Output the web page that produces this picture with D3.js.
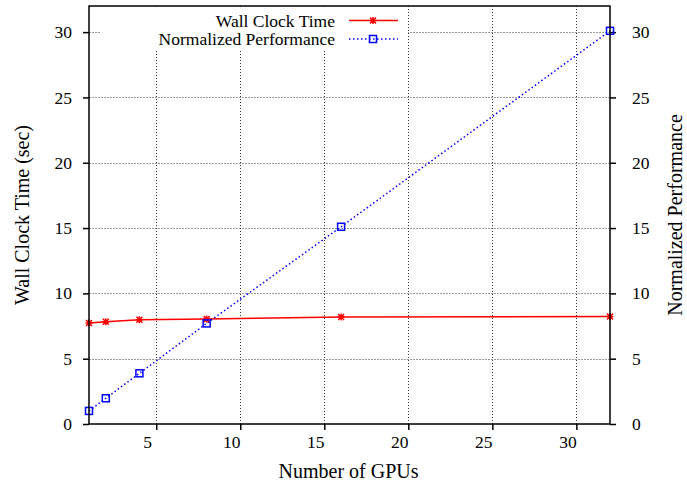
<!DOCTYPE html>
<html>
<head>
<meta charset="utf-8">
<script src="https://cdn.jsdelivr.net/npm/d3@7"></script>
<style>
  body { margin: 0; background: #fff; }
  text { font-family: "Liberation Serif", "Times New Roman", serif; fill: #000; }
</style>
</head>
<body>
<script>
// data
var gpus = [1, 2, 4, 8, 16, 32];
var wallClock = [7.73, 7.83, 7.98, 8.03, 8.19, 8.23];
var normPerf = [1.0, 1.97, 3.88, 7.70, 15.1, 30.1];
var xTicks = [5, 10, 15, 20, 25, 30];
var yTicks = [0, 5, 10, 15, 20, 25, 30];

var svgWidth = 687, svgHeight = 486;
var margin = { top: 6, right: 77, bottom: 62, left: 89 };
var width = svgWidth - margin.left - margin.right;
var height = svgHeight - margin.top - margin.bottom;

var xscale = d3.scaleLinear().domain([1, 32]).range([0, width]);
var yscale = d3.scaleLinear().domain([0, 32]).range([height, 0]);
var y2scale = d3.scaleLinear().domain([0, 32]).range([height, 0]);

var svg = d3.select("body").append("svg")
    .attr("width", svgWidth)
    .attr("height", svgHeight);

var g = svg.append("g")
    .attr("transform", "translate(" + margin.left + "," + margin.top + ")");

// grid
g.append("g").selectAll("line").data(yTicks.filter(function(d) { return d > 0; }))
    .enter().append("line")
    .attr("x1", 0).attr("x2", width)
    .attr("y1", function(d) { return Math.round(yscale(d)) + 0.5; })
    .attr("y2", function(d) { return Math.round(yscale(d)) + 0.5; })
    .attr("stroke", "#999")
    .attr("stroke-dasharray", "2,1");

g.append("g").selectAll("line").data(xTicks)
    .enter().append("line")
    .attr("x1", function(d) { return Math.round(xscale(d)) + 0.5; })
    .attr("x2", function(d) { return Math.round(xscale(d)) + 0.5; })
    .attr("y1", 0).attr("y2", height)
    .attr("stroke", "#333")
    .attr("stroke-dasharray", "1,2");

// legend box hides grid behind it
var legend = svg.append("g");
legend.append("rect")
    .attr("x", 100).attr("y", 9)
    .attr("width", 308).attr("height", 41)
    .attr("fill", "#fff");

// axes
var xAxis = g.append("g")
    .attr("transform", "translate(0," + height + ")")
    .call(d3.axisBottom(xscale).tickValues(xTicks).tickSize(6).tickPadding(6));
xAxis.selectAll("text").attr("dx", -9).style("font-size", "17.5px");

var yAxis = g.append("g")
    .call(d3.axisLeft(yscale).tickValues(yTicks).tickSize(6).tickPadding(11));
yAxis.selectAll("text").style("font-size", "17.5px");

var y2Axis = g.append("g")
    .attr("transform", "translate(" + width + ",0)")
    .call(d3.axisRight(y2scale).tickValues(yTicks).tickSize(6).tickPadding(16));
y2Axis.selectAll("text").style("font-size", "17.5px");

[xAxis, yAxis, y2Axis].forEach(function(a) {
    a.select(".domain").remove();
    a.selectAll("line").attr("stroke", "#000").attr("stroke-width", 1.5);
    a.selectAll("text").attr("font-family", null);
});

// data lines
var line1 = d3.line()
    .x(function(d, i) { return xscale(gpus[i]); })
    .y(function(d) { return yscale(d); });
var line2 = d3.line()
    .x(function(d, i) { return xscale(gpus[i]); })
    .y(function(d) { return y2scale(d); });

g.append("path").datum(wallClock)
    .attr("fill", "none")
    .attr("stroke", "#ff0000")
    .attr("stroke-width", 1.5)
    .attr("d", line1);

g.append("path").datum(normPerf)
    .attr("fill", "none")
    .attr("stroke", "#0000ff")
    .attr("stroke-width", 1.5)
    .attr("stroke-dasharray", "1.5,2.5")
    .attr("d", line2);

var star = "M-3.5,0H3.5M0,-3.5V3.5M-3,-3L3,3M-3,3L3,-3";

g.append("g").selectAll("path").data(wallClock)
    .enter().append("path")
    .attr("transform", function(d, i) { return "translate(" + xscale(gpus[i]) + "," + yscale(d) + ")"; })
    .attr("d", star)
    .attr("stroke", "#ff0000")
    .attr("stroke-width", 1.5)
    .attr("fill", "none");

g.append("g").selectAll("rect").data(normPerf)
    .enter().append("rect")
    .attr("x", function(d, i) { return xscale(gpus[i]) - 3.5; })
    .attr("y", function(d) { return y2scale(d) - 3.5; })
    .attr("width", 7).attr("height", 7)
    .attr("stroke", "#0000ff")
    .attr("stroke-width", 1.5)
    .attr("fill", "none");

// border
g.append("rect")
    .attr("x", 0).attr("y", 0)
    .attr("width", width).attr("height", height)
    .attr("fill", "none")
    .attr("stroke", "#000")
    .attr("stroke-width", 1.5);

// legend entries
legend.append("text")
    .attr("x", 335).attr("y", 27)
    .attr("text-anchor", "end")
    .style("font-size", "17.5px")
    .text("Wall Clock Time");
legend.append("text")
    .attr("x", 335).attr("y", 45)
    .attr("text-anchor", "end")
    .style("font-size", "17.5px")
    .text("Normalized Performance");
legend.append("line")
    .attr("x1", 349).attr("x2", 398).attr("y1", 20.5).attr("y2", 20.5)
    .attr("stroke", "#ff0000").attr("stroke-width", 1.5);
legend.append("path")
    .attr("transform", "translate(373,20.5)")
    .attr("d", star)
    .attr("stroke", "#ff0000").attr("stroke-width", 1.5).attr("fill", "none");
legend.append("line")
    .attr("x1", 349).attr("x2", 398).attr("y1", 39).attr("y2", 39)
    .attr("stroke", "#0000ff").attr("stroke-width", 1.5)
    .attr("stroke-dasharray", "1.5,2.5");
legend.append("rect")
    .attr("x", 369.5).attr("y", 35.5).attr("width", 7).attr("height", 7)
    .attr("stroke", "#0000ff").attr("stroke-width", 1.5).attr("fill", "none");

// axis titles
svg.append("text")
    .attr("x", margin.left + width / 2 - 1).attr("y", 478)
    .attr("text-anchor", "middle")
    .style("font-size", "20px")
    .text("Number of GPUs");
svg.append("text")
    .attr("transform", "translate(29," + (margin.top + height / 2) + ") rotate(-90)")
    .attr("text-anchor", "middle")
    .style("font-size", "20px")
    .text("Wall Clock Time (sec)");
svg.append("text")
    .attr("transform", "translate(682," + (margin.top + height / 2) + ") rotate(-90)")
    .attr("text-anchor", "middle")
    .style("font-size", "20px")
    .text("Normalized Performance");
</script>
</body>
</html>
